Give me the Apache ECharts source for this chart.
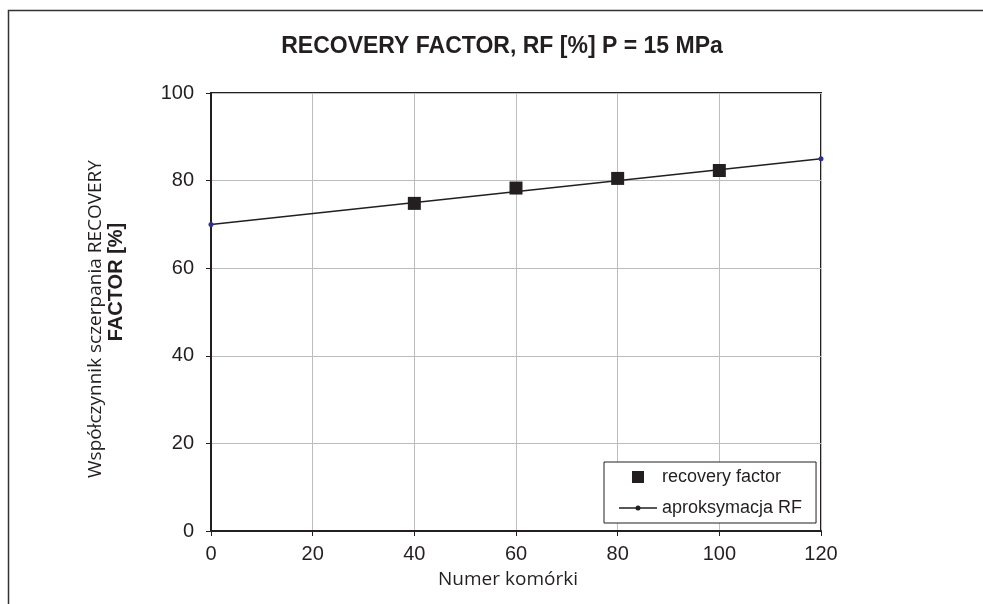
<!DOCTYPE html>
<html>
<head>
<meta charset="utf-8">
<script src="https://cdn.jsdelivr.net/npm/echarts@6/dist/echarts.min.js"></script>
<style>
  html, body { margin: 0; padding: 0; background: #fff; }
  #chart { width: 983px; height: 604px; }
</style>
</head>
<body>
<div id="chart"></div>
<script>
// measured points (Numer komórki -> RF %)
var cellNumbers = [40, 60, 80, 100];
var recoveryFactor = [74.8, 78.3, 80.5, 82.3];
// linear approximation endpoints
var approxX = [0, 120];
var approxY = [70, 85];

var xTicks = { min: 0, max: 120, interval: 20 };
var yTicks = { min: 0, max: 100, interval: 20 };

var chart = echarts.init(document.getElementById('chart'));

var option = {
	animation: false,
	backgroundColor: '#ffffff',
	textStyle: { fontFamily: 'Liberation Sans, Arial, sans-serif' },
	title: {
		text: 'RECOVERY FACTOR, RF [%] P = 15 MPa',
		left: 497,
		textAlign: 'center',
		top: 30,
		textStyle: { fontSize: 23, fontWeight: 'bold', color: '#231f20' }
	},
	graphic: [{
		type: 'polyline',
		shape: { points: [[8.5, 604], [8.5, 10.5], [983, 10.5]] },
		style: { stroke: '#333', lineWidth: 1.5, fill: null },
		silent: true
	}],
	grid: {
		left: 211,
		right: 162,
		top: 93,
		bottom: 73,
		show: true,
		borderColor: '#231f20',
		borderWidth: 2,
		backgroundColor: 'transparent'
	},
	legend: {
		orient: 'vertical',
		left: 604,
		top: 462,
		padding: [6, 14, 6, 15],
		itemGap: 13,
		itemWidth: 38,
		itemHeight: 12,
		borderColor: '#231f20',
		borderWidth: 1,
		borderRadius: 0,
		backgroundColor: '#fff',
		textStyle: { fontSize: 18, color: '#231f20' },
		data: [
			{ name: 'recovery factor', icon: 'path://M0,0H10V10H0Z', itemStyle: { color: '#231f20' } },
			{ name: 'aproksymacja RF', icon: 'path://M0,5.3H38V6.7H0Z M16.5,6A2.5,2.5 0 1,1 21.5,6A2.5,2.5 0 1,1 16.5,6Z', itemStyle: { color: '#231f20' } }
		]
	},
	xAxis: {
		type: 'value',
		min: xTicks.min,
		max: xTicks.max,
		interval: xTicks.interval,
		name: 'Numer komórki',
		nameLocation: 'middle',
		nameGap: 39,
		nameTextStyle: { fontFamily: 'Open Sans', fontSize: 19, color: '#231f20', padding: [0, 16, 0, 0] },
		axisLine: { show: true, lineStyle: { color: '#231f20', width: 2 } },
		axisTick: { show: true, length: 5, lineStyle: { color: '#231f20' } },
		axisLabel: { fontSize: 20, color: '#231f20', margin: 13 },
		splitLine: { show: true, lineStyle: { color: '#bdbdbd', width: 1 } }
	},
	yAxis: {
		type: 'value',
		min: yTicks.min,
		max: yTicks.max,
		interval: yTicks.interval,
		name: '{a|Współczynnik sczerpania RECOVERY}\n{b|FACTOR [%]}',
		nameLocation: 'middle',
		nameGap: 84,
		nameTextStyle: {
			color: '#231f20',
			rich: {
				a: { fontFamily: 'Open Sans', fontSize: 19, lineHeight: 21, color: '#231f20', padding: [0, 14, 0, 0] },
				b: { fontFamily: 'Liberation Sans', fontSize: 20, fontWeight: 'bold', lineHeight: 21, color: '#231f20', padding: [0, 0, 0, 60] }
			}
		},
		axisLine: { show: true, lineStyle: { color: '#231f20', width: 2 } },
		axisTick: { show: true, length: 5, lineStyle: { color: '#231f20' } },
		axisLabel: { fontSize: 20, color: '#231f20', margin: 17 },
		splitLine: { show: true, lineStyle: { color: '#bdbdbd', width: 1 } }
	},
	series: [
		{
			name: 'aproksymacja RF',
			type: 'line',
			data: approxX.map(function (x, i) { return [x, approxY[i]]; }),
			symbol: 'circle',
			symbolSize: 5,
			showSymbol: true,
			lineStyle: { color: '#231f20', width: 1.5 },
			itemStyle: { color: '#2e3192' },
			z: 2
		},
		{
			name: 'recovery factor',
			type: 'scatter',
			data: cellNumbers.map(function (x, i) { return [x, recoveryFactor[i]]; }),
			symbol: 'rect',
			symbolSize: 13,
			itemStyle: { color: '#231f20', opacity: 1 },
			z: 3
		}
	]
};

chart.setOption(option);
</script>
</body>
</html>
